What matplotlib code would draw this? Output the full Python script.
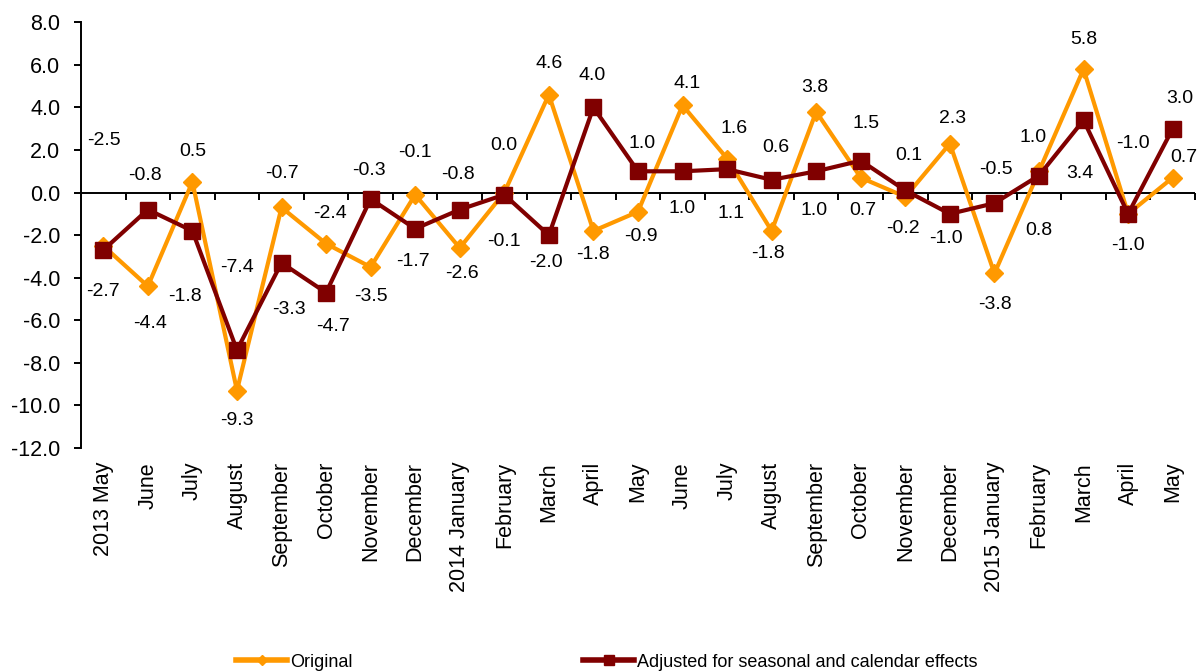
import numpy as np
import matplotlib
matplotlib.use("Agg")
import matplotlib.pyplot as plt
from matplotlib.lines import Line2D

plt.rcParams['font.family'] = ['Liberation Sans', 'DejaVu Sans']
plt.rcParams['axes.unicode_minus'] = False

# data
months = ['2013 May', 'June', 'July', 'August', 'September', 'October', 'November',
          'December', '2014 January', 'February', 'March', 'April', 'May', 'June',
          'July', 'August', 'September', 'October', 'November', 'December',
          '2015 January', 'February', 'March', 'April', 'May']
original = [-2.5, -4.4, 0.5, -9.3, -0.7, -2.4, -3.5, -0.1, -2.6, 0.0, 4.6, -1.8, -0.9,
            4.1, 1.6, -1.8, 3.8, 0.7, -0.2, 2.3, -3.8, 1.0, 5.8, -1.0, 0.7]
adjusted = [-2.7, -0.8, -1.8, -7.4, -3.3, -4.7, -0.3, -1.7, -0.8, -0.1, -2.0, 4.0, 1.0,
            1.0, 1.1, 0.6, 1.0, 1.5, 0.1, -1.0, -0.5, 0.8, 3.4, -1.0, 3.0]

# label offsets (value units / category units), as Excel placed them
orig_dy = [4.95, -1.74, 1.44, -1.4, 1.59, 1.42, -1.36, 1.98, -1.2, 2.19, 1.45, -1.1, -1.15,
           1.04, 1.4, -1.06, 1.15, -1.53, -1.49, 1.17, -1.48, 1.61, 1.39, 3.3, 0.97]
orig_dx = [0.02, 0.06, 0, 0, 0, 0.09, 0, 0, 0.04, 0, 0, 0, 0.06,
           0.1, 0.15, -0.09, -0.04, 0.04, -0.06, 0.07, 0.02, -0.13, 0, 0.11, 0.26]
adj_dy = [-1.96, 1.58, -3.06, 3.87, -2.2, -1.6, 1.35, -1.52, 1.64, -2.18, -1.3, 1.5, 1.3,
          -1.75, -2.08, 1.54, -1.83, 1.73, 1.62, -1.16, 1.59, -2.57, -2.51, -1.47, 1.44]
adj_dx = [0, -0.06, -0.17, 0, 0.16, 0.15, -0.04, -0.06, -0.04, 0, -0.06, -0.04, 0.1,
          0, 0.09, 0.1, -0.04, 0.12, 0.07, -0.09, 0.03, 0, -0.09, 0, 0.17]

ORANGE = '#FF9900'
DARKRED = '#800000'

x = np.arange(len(months))

fig = plt.figure(figsize=(12, 6.71), dpi=100)
ax = fig.add_axes([0.0675, 0.3323, 0.9283, 0.6345])

ax.axhline(0, color='black', lw=1.4, zorder=2)
ax.plot(x, original, color=ORANGE, lw=3, marker='D', ms=9.5, zorder=3)
ax.plot(x, adjusted, color=DARKRED, lw=3, marker='s', ms=11.5, zorder=4)

for i in range(len(x)):
    ax.text(x[i] + orig_dx[i], original[i] + orig_dy[i], f"{original[i]:.1f}",
            ha='center', va='center', fontsize=14, color='black', zorder=5)
    ax.text(x[i] + adj_dx[i], adjusted[i] + adj_dy[i], f"{adjusted[i]:.1f}",
            ha='center', va='center', fontsize=14, color='black', zorder=5)

ax.set_xlim(-0.5, len(months) - 0.5)
ax.set_ylim(-12, 8)
ax.set_yticks(np.arange(-12, 9, 2))
ax.set_yticklabels([f"{v:.1f}" for v in np.arange(-12, 9, 2)])
ax.tick_params(axis='y', direction='out', length=5, width=1.4, pad=10, labelsize=15.5)

ax.set_xticks(x)
ax.set_xticklabels(months, rotation=90, fontsize=15.5)
ax.tick_params(axis='x', length=0, pad=10)

for s in ['top', 'right', 'bottom']:
    ax.spines[s].set_visible(False)
ax.spines['left'].set_linewidth(1.4)

# tick marks between categories on the zero line
zero_pos = (0 - (-12)) / (8 - (-12))
sec = ax.secondary_xaxis(zero_pos)
sec.set_xticks(np.arange(-0.5, len(months), 1))
sec.xaxis.set_ticks_position('bottom')
sec.tick_params(axis='x', direction='out', length=5, width=1.4,
                labelbottom=False, labeltop=False)
for s in sec.spines.values():
    s.set_visible(False)

handles = [Line2D([], [], color=ORANGE, lw=4, marker='D', ms=5),
           Line2D([], [], color=DARKRED, lw=4, marker='s', ms=7)]
fig.legend(handles, ['Original', 'Adjusted for seasonal and calendar effects'],
           loc='center left', bbox_to_anchor=(0.197, 0.013), ncol=2, frameon=False,
           fontsize=13, handlelength=2.8, handletextpad=0.2, columnspacing=12.75,
           borderpad=0, borderaxespad=0)

fig.savefig('out.png', dpi=100)
